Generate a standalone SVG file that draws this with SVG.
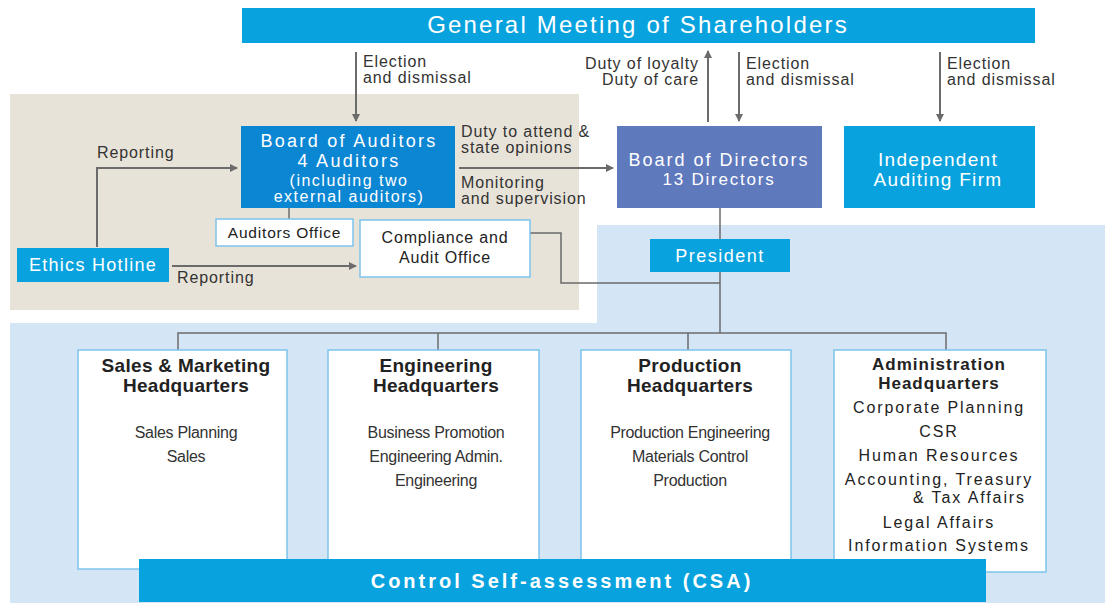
<svg xmlns="http://www.w3.org/2000/svg" width="1105" height="603" viewBox="0 0 1105 603">
<style>
text{font-family:"Liberation Sans",Arial,sans-serif}
.w{fill:#fff}
.lbl{font-size:16px;fill:#333;letter-spacing:0.9px}
.hq{font-size:19px;font-weight:bold;fill:#222;text-anchor:middle;letter-spacing:0.3px}
.hqa{font-size:17px;font-weight:bold;fill:#222;text-anchor:middle;letter-spacing:1px}
.it{font-size:16px;fill:#333;text-anchor:middle;letter-spacing:-0.3px}
.ad{font-size:16px;fill:#222;text-anchor:middle;letter-spacing:1.9px}
.ln{stroke:#6b6b6b;stroke-width:2;fill:none}
.thin{stroke:#6b6b6b;stroke-width:1.5;fill:none}
.wb{fill:#fff;stroke:#7cc4ec;stroke-width:1.5}
</style>
<defs>
<marker id="ah" markerWidth="8" markerHeight="8" refX="7" refY="4" orient="auto" markerUnits="userSpaceOnUse">
<path d="M0,0 L8,4 L0,8 Z" fill="#6b6b6b"/>
</marker>
</defs>
<g id="backgrounds">
<rect x="10" y="94" width="569" height="216" fill="#e8e3d9"/>
<path d="M597,225 H1105 V603 H10 V323 H597 Z" fill="#d4e6f5"/>
</g>
<g id="connectors">
<line class="ln" x1="356" y1="52" x2="356" y2="121" marker-end="url(#ah)"/>
<line class="ln" x1="708" y1="122" x2="708" y2="51" marker-end="url(#ah)"/>
<line class="ln" x1="739" y1="52" x2="739" y2="121" marker-end="url(#ah)"/>
<line class="ln" x1="940" y1="52" x2="940" y2="121" marker-end="url(#ah)"/>
<polyline class="ln" points="97,247 97,168 237,168" marker-end="url(#ah)"/>
<line class="ln" x1="459" y1="168" x2="613" y2="168" marker-end="url(#ah)"/>
<line class="ln" x1="172" y1="266" x2="356" y2="266" marker-end="url(#ah)"/>
<line class="thin" x1="289" y1="208" x2="289" y2="219"/>
<polyline class="thin" points="530,233 561,233 561,283 720,283"/>
<line class="thin" x1="720" y1="208" x2="720" y2="333"/>
<polyline class="thin" points="178,350 178,333 946,333 946,350"/>
<line class="thin" x1="438" y1="333" x2="438" y2="350"/>
<line class="thin" x1="688" y1="333" x2="688" y2="350"/>
</g>
<g id="gm">
<rect x="242" y="8" width="793" height="35" fill="#08a3de"/>
<text x="638" y="33" class="w" font-size="24" text-anchor="middle" letter-spacing="2.2">General Meeting of Shareholders</text>
</g>
<g id="labels">
<text class="lbl" x="363" y="67">Election</text>
<text class="lbl" x="363" y="83">and dismissal</text>
<text class="lbl" x="699" y="69" text-anchor="end">Duty of loyalty</text>
<text class="lbl" x="699" y="85" text-anchor="end">Duty of care</text>
<text class="lbl" x="746" y="69">Election</text>
<text class="lbl" x="746" y="85">and dismissal</text>
<text class="lbl" x="947" y="69">Election</text>
<text class="lbl" x="947" y="85">and dismissal</text>
<text class="lbl" x="97" y="158">Reporting</text>
<text class="lbl" x="177" y="283">Reporting</text>
<text class="lbl" x="461" y="137">Duty to attend &amp;</text>
<text class="lbl" x="461" y="153">state opinions</text>
<text class="lbl" x="461" y="188">Monitoring</text>
<text class="lbl" x="461" y="204">and supervision</text>
</g>
<g id="board-of-auditors">
<rect x="241" y="126" width="214" height="82" fill="#0b86d3"/>
<text class="w" x="349" y="147" font-size="18" text-anchor="middle" letter-spacing="2.3">Board of Auditors</text>
<text class="w" x="349" y="167" font-size="18" text-anchor="middle" letter-spacing="2.3">4 Auditors</text>
<text class="w" x="349" y="186" font-size="16" text-anchor="middle" letter-spacing="1.5">(including two</text>
<text class="w" x="349" y="202" font-size="16" text-anchor="middle" letter-spacing="1.5">external auditors)</text>
</g>
<g id="auditors-office">
<rect class="wb" x="216" y="219" width="137" height="27"/>
<text x="284.5" y="238" font-size="15.5" fill="#222" text-anchor="middle" letter-spacing="0.8">Auditors Office</text>
</g>
<g id="compliance">
<rect class="wb" x="360" y="220" width="170" height="57"/>
<text x="445" y="243" font-size="16" fill="#222" text-anchor="middle" letter-spacing="0.8">Compliance and</text>
<text x="445" y="263" font-size="16" fill="#222" text-anchor="middle" letter-spacing="0.8">Audit Office</text>
</g>
<g id="ethics-hotline">
<rect x="17" y="248" width="152" height="34" fill="#08a3de"/>
<text class="w" x="93" y="271" font-size="18" text-anchor="middle" letter-spacing="1.3">Ethics Hotline</text>
</g>
<g id="board-of-directors">
<rect x="617" y="126" width="205" height="82" fill="#5f79bd"/>
<text class="w" x="719" y="166" font-size="18" text-anchor="middle" letter-spacing="2">Board of Directors</text>
<text class="w" x="719" y="185" font-size="17" text-anchor="middle" letter-spacing="1.8">13  Directors</text>
</g>
<g id="independent-auditing-firm">
<rect x="844" y="126" width="191" height="82" fill="#08a3de"/>
<text class="w" x="938" y="166" font-size="19" text-anchor="middle" letter-spacing="1.3">Independent</text>
<text class="w" x="938" y="186" font-size="19" text-anchor="middle" letter-spacing="1.3">Auditing Firm</text>
</g>
<g id="president">
<rect x="650" y="239" width="140" height="33" fill="#08a3de"/>
<text class="w" x="720" y="262" font-size="18" text-anchor="middle" letter-spacing="1.5">President</text>
</g>
<g id="sales-hq">
<rect class="wb" x="78" y="350" width="209" height="219"/>
<text class="hq" x="186" y="372">Sales &amp; Marketing</text>
<text class="hq" x="186" y="392">Headquarters</text>
<text class="it" x="186" y="438">Sales Planning</text>
<text class="it" x="186" y="462">Sales</text>
</g>
<g id="engineering-hq">
<rect class="wb" x="328" y="350" width="211" height="219"/>
<text class="hq" x="436" y="372">Engineering</text>
<text class="hq" x="436" y="392">Headquarters</text>
<text class="it" x="436" y="438">Business Promotion</text>
<text class="it" x="436" y="462">Engineering Admin.</text>
<text class="it" x="436" y="486">Engineering</text>
</g>
<g id="production-hq">
<rect class="wb" x="581" y="350" width="210" height="219"/>
<text class="hq" x="690" y="372">Production</text>
<text class="hq" x="690" y="392">Headquarters</text>
<text class="it" x="690" y="438">Production Engineering</text>
<text class="it" x="690" y="462">Materials Control</text>
<text class="it" x="690" y="486">Production</text>
</g>
<g id="administration-hq">
<rect class="wb" x="834" y="350" width="212" height="222"/>
<text class="hqa" x="939" y="370">Administration</text>
<text class="hqa" x="939" y="389">Headquarters</text>
<text class="ad" x="939" y="413">Corporate Planning</text>
<text class="ad" x="939" y="437">CSR</text>
<text class="ad" x="939" y="461">Human Resources</text>
<text class="ad" x="939" y="485">Accounting, Treasury</text>
<text class="ad" x="1026" y="503" style="text-anchor:end">&amp; Tax Affairs</text>
<text class="ad" x="939" y="528">Legal Affairs</text>
<text class="ad" x="939" y="551">Information Systems</text>
</g>
<g id="csa">
<rect x="139" y="559" width="847" height="43" fill="#08a3de"/>
<text class="w" x="562" y="588" font-size="20" font-weight="bold" text-anchor="middle" letter-spacing="3">Control Self-assessment (CSA)</text>
</g>
</svg>
